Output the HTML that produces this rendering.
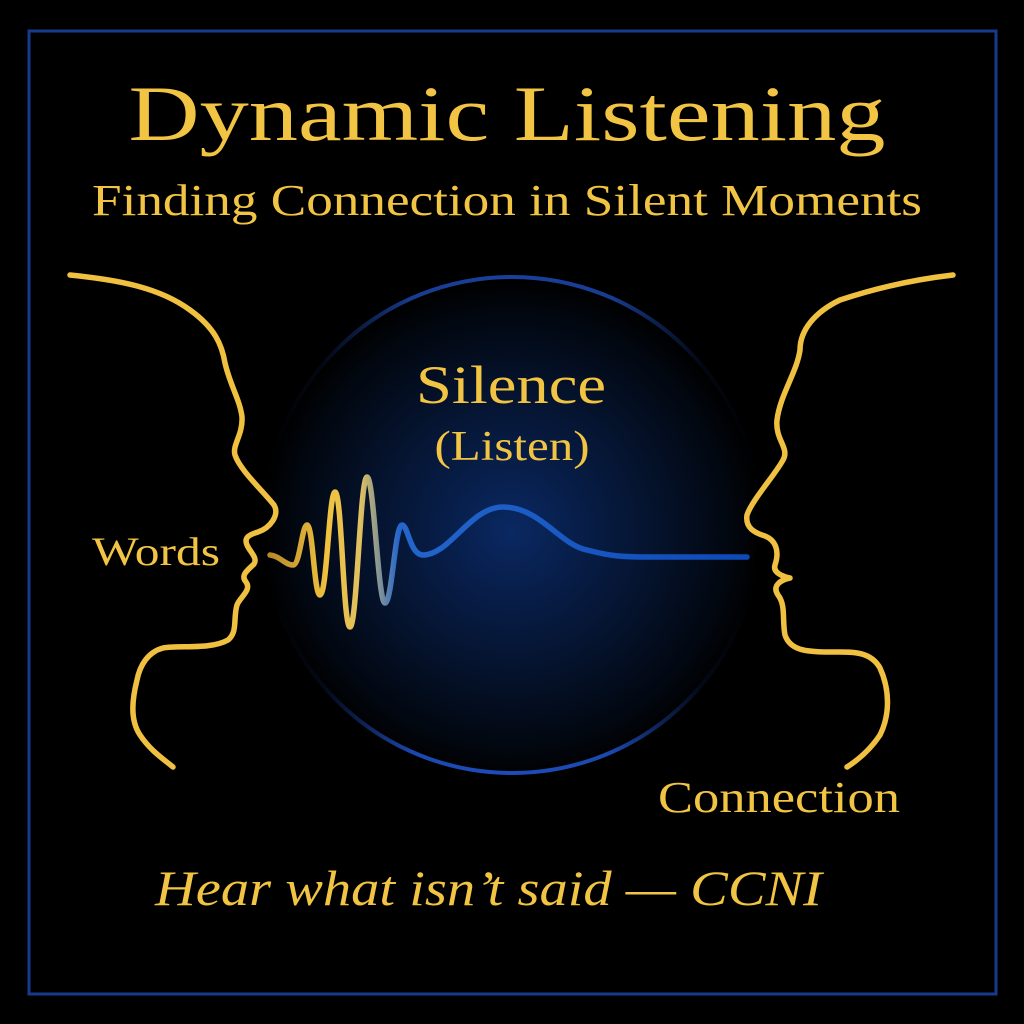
<!DOCTYPE html>
<html><head><meta charset="utf-8"><style>
html,body{margin:0;padding:0;background:#000;}
svg{display:block;}
text{font-family:"Liberation Serif",serif;fill:#f2c443;}
</style></head><body>
<svg width="1024" height="1024" viewBox="0 0 1024 1024">
<defs>
<radialGradient id="glow" cx="512" cy="530" r="250" gradientUnits="userSpaceOnUse">
<stop offset="0" stop-color="#0a2862"/>
<stop offset="0.45" stop-color="#061738"/>
<stop offset="0.85" stop-color="#020812"/>
<stop offset="1" stop-color="#000"/>
</radialGradient>
<linearGradient id="ringfade" x1="264" y1="0" x2="760" y2="0" gradientUnits="userSpaceOnUse">
<stop offset="0" stop-color="#fff" stop-opacity="0"/>
<stop offset="0.12" stop-color="#fff" stop-opacity="0.15"/>
<stop offset="0.3" stop-color="#fff" stop-opacity="1"/>
<stop offset="0.7" stop-color="#fff" stop-opacity="1"/>
<stop offset="0.88" stop-color="#fff" stop-opacity="0.15"/>
<stop offset="1" stop-color="#fff" stop-opacity="0"/>
</linearGradient>
<mask id="rm" maskUnits="userSpaceOnUse" x="0" y="0" width="1024" height="1024">
<rect x="0" y="0" width="1024" height="1024" fill="url(#ringfade)"/>
</mask>
<linearGradient id="ring" x1="0" y1="278" x2="0" y2="775" gradientUnits="userSpaceOnUse">
<stop offset="0" stop-color="#1a3f99"/>
<stop offset="0.5" stop-color="#0a1c44"/>
<stop offset="1" stop-color="#1d4cb8"/>
</linearGradient>
<linearGradient id="wave" x1="270" y1="0" x2="747" y2="0" gradientUnits="userSpaceOnUse">
<stop offset="0" stop-color="#b88a2a"/>
<stop offset="0.12" stop-color="#f0c23e"/>
<stop offset="0.19" stop-color="#e0c060"/>
<stop offset="0.27" stop-color="#2466cc"/>
<stop offset="1" stop-color="#0d4ab8"/>
</linearGradient>
</defs>
<rect width="1024" height="1024" fill="#000"/>
<rect x="29" y="31" width="967" height="963" fill="none" stroke="#173a8c" stroke-width="3"/>
<circle cx="512" cy="525" r="250" fill="url(#glow)"/>
<circle cx="512" cy="525" r="248" fill="none" stroke="url(#ring)" stroke-width="4" mask="url(#rm)"/>

<text x="507" y="140" font-size="78" text-anchor="middle" textLength="757" lengthAdjust="spacingAndGlyphs">Dynamic Listening</text>
<text x="507" y="215" font-size="44" text-anchor="middle" textLength="830" lengthAdjust="spacingAndGlyphs">Finding Connection in Silent Moments</text>
<text x="511" y="403" font-size="54" text-anchor="middle" textLength="190" lengthAdjust="spacingAndGlyphs">Silence</text>
<text x="512" y="460" font-size="42" text-anchor="middle" textLength="155" lengthAdjust="spacingAndGlyphs">(Listen)</text>
<text x="92" y="565" font-size="40" textLength="128" lengthAdjust="spacingAndGlyphs">Words</text>
<text x="658" y="812" font-size="44" textLength="242" lengthAdjust="spacingAndGlyphs">Connection</text>
<text x="155" y="905" font-size="50" font-style="italic" textLength="667" lengthAdjust="spacingAndGlyphs">Hear what isn’t said — CCNI</text>

<path fill="none" stroke="#f0c040" stroke-width="5.5" stroke-linecap="round" stroke-linejoin="round"
d="M70,275 C120,280 160,288 190,310 C215,328 222,345 225,363 C230,385 240,400 242,417 C243,435 232,445 235,455 C240,470 262,490 274,505 C280,515 270,528 258,532 C248,535 244,538 247,545 C250,552 258,558 254,564 C248,570 240,575 246,582 C252,590 240,597 237,605 C233,618 238,632 228,640 C210,650 180,645 163,648 C148,652 140,665 137,680 C132,700 130,720 140,735 C150,750 162,758 173,767"/>
<path fill="none" stroke="#f0c040" stroke-width="5.5" stroke-linecap="round" stroke-linejoin="round"
d="M953,275 C910,280 870,290 840,300 C815,312 800,330 800,350 C797,372 780,395 777,420 C775,440 790,448 783,460 C775,475 752,500 747,515 C745,528 755,533 765,536 C775,540 780,550 775,565 C772,575 790,578 790,578 C780,580 772,586 778,595 C786,605 782,620 785,635 C790,650 805,652 830,652 C850,652 870,650 880,668 C890,690 890,715 880,735 C870,750 858,760 847,767"/>

<path fill="none" stroke="url(#wave)" stroke-width="5.5" stroke-linecap="round"
d="M270,555 C280,556 285,565 293,565 C300,565 302,525 307,525 C313,525 314,595 320,595 C327,595 329,492 335,492 C342,492 343,627 350,627 C357,627 360,477 367,477 C374,477 378,603 385,603 C392,603 395,525 402,525 C408,525 410,555 423,555 C450,555 470,507 503,507 C540,507 560,545 587,550 C610,556 620,557 650,557 L747,557"/>
</svg>
</body></html>
